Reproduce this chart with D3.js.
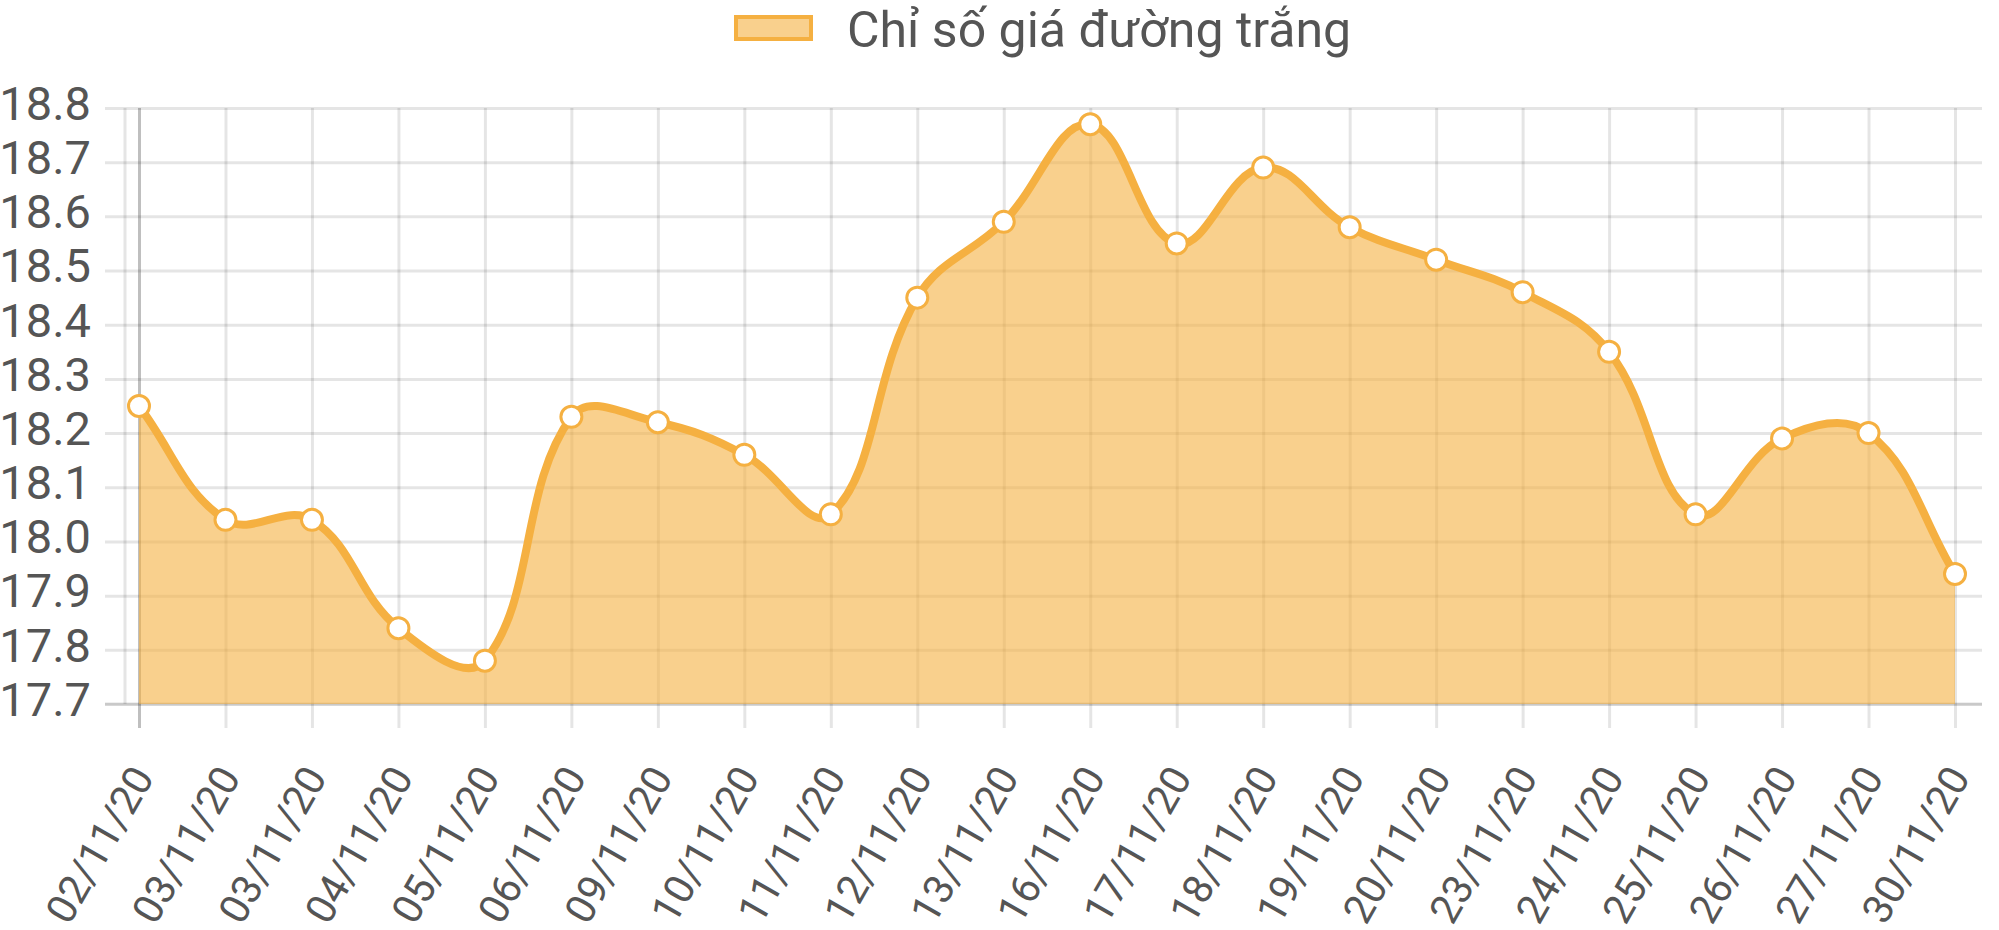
<!DOCTYPE html>
<html>
<head>
<meta charset="utf-8">
<script src="https://cdn.jsdelivr.net/npm/d3@7"></script>
<style>
  html, body { margin: 0; padding: 0; background: #fff; }
  svg { display: block; }
</style>
</head>
<body>
<div id="chart"></div>
<script>
// data
var labels = ["02/11/20", "03/11/20", "03/11/20", "04/11/20", "05/11/20", "06/11/20",
              "09/11/20", "10/11/20", "11/11/20", "12/11/20", "13/11/20", "16/11/20",
              "17/11/20", "18/11/20", "19/11/20", "20/11/20", "23/11/20", "24/11/20",
              "25/11/20", "26/11/20", "27/11/20", "30/11/20"];
var values = [18.25, 18.04, 18.04, 17.84, 17.78, 18.23,
              18.22, 18.16, 18.05, 18.45, 18.59, 18.77,
              18.55, 18.69, 18.58, 18.52, 18.46, 18.35,
              18.05, 18.19, 18.20, 17.94];
var yTicks = [17.7, 17.8, 17.9, 18.0, 18.1, 18.2, 18.3, 18.4, 18.5, 18.6, 18.7, 18.8];
var seriesName = "Chỉ số giá đường trắng";

var width = 1999, height = 930;
var plotLeft = 125, plotRight = 1982, plotTop = 108, plotBottom = 704;
var lineColor = "#f5b041";
var fillColor = "rgba(245,176,65,0.6)";
var textColor = "#555";
var font = "Roboto, 'Helvetica Neue', Arial, sans-serif";

var svg = d3.select("#chart").append("svg")
    .attr("width", width)
    .attr("height", height)
    .attr("viewBox", "0 0 " + width + " " + height);

var xScale = d3.scalePoint()
    .domain(d3.range(labels.length))
    .range([139, 1955]);

var yScale = d3.scaleLinear()
    .domain([17.7, 18.8])
    .range([plotBottom, plotTop]);

// horizontal grid + y labels
var yAxis = d3.axisLeft(yScale)
    .tickValues(yTicks)
    .tickFormat(d3.format(".1f"))
    .tickSizeInner(-(plotRight - 105))
    .tickSizeOuter(0)
    .tickPadding(14);

var yG = svg.append("g")
    .attr("transform", "translate(105,0)")
    .call(yAxis);
yG.select(".domain").remove();
yG.selectAll(".tick line")
    .attr("stroke", "rgba(0,0,0,0.1)")
    .attr("stroke-width", 3);
yG.selectAll(".tick text")
    .attr("fill", textColor)
    .attr("font-family", font)
    .attr("font-size", 47)
    .attr("dy", "0.24em");

// vertical grid + x labels
var xAxis = d3.axisBottom(xScale)
    .tickFormat(function(i) { return labels[i]; })
    .tickSizeInner(-(728 - plotTop))
    .tickSizeOuter(0)
    .tickPadding(0);

var xG = svg.append("g")
    .attr("transform", "translate(0,728)")
    .call(xAxis);
xG.select(".domain").remove();
xG.selectAll(".tick line")
    .attr("stroke", function(d, i) { return i === 0 ? "rgba(0,0,0,0.25)" : "rgba(0,0,0,0.1)"; })
    .attr("stroke-width", 3);
xG.selectAll(".tick text")
    .attr("fill", textColor)
    .attr("font-family", font)
    .attr("font-size", 41)
    .attr("text-anchor", "end")
    .attr("y", 0)
    .attr("dy", "0.35em")
    .attr("transform", "translate(3,42) rotate(-60)");

// axis borders
svg.append("line")
    .attr("x1", plotLeft).attr("x2", plotLeft)
    .attr("y1", plotTop).attr("y2", plotBottom)
    .attr("stroke", "rgba(0,0,0,0.1)")
    .attr("stroke-width", 3);
svg.append("line")
    .attr("x1", 105).attr("x2", plotRight)
    .attr("y1", plotBottom).attr("y2", plotBottom)
    .attr("stroke", "rgba(0,0,0,0.12)")
    .attr("stroke-width", 3);

// points in pixel space
var pts = values.map(function(v, i) { return { x: xScale(i), y: yScale(v) }; });

// spline control points, tension 0.4
var tension = 0.4;
pts.forEach(function(cur, i) {
  var prev = pts[i - 1] || cur, next = pts[i + 1] || cur;
  var d01 = Math.hypot(cur.x - prev.x, cur.y - prev.y);
  var d12 = Math.hypot(next.x - cur.x, next.y - cur.y);
  var s01 = d01 / (d01 + d12) || 0, s12 = d12 / (d01 + d12) || 0;
  var fa = tension * s01, fb = tension * s12;
  cur.cpx0 = cur.x - fa * (next.x - prev.x);
  cur.cpy0 = Math.max(plotTop, Math.min(plotBottom, cur.y - fa * (next.y - prev.y)));
  cur.cpx1 = cur.x + fb * (next.x - prev.x);
  cur.cpy1 = Math.max(plotTop, Math.min(plotBottom, cur.y + fb * (next.y - prev.y)));
});

function curvePath(p) {
  p.moveTo(pts[0].x, pts[0].y);
  for (var i = 1; i < pts.length; i++) {
    var a = pts[i - 1], b = pts[i];
    p.bezierCurveTo(a.cpx1, a.cpy1, b.cpx0, b.cpy0, b.x, b.y);
  }
  return p;
}

var areaPath = curvePath(d3.path());
areaPath.lineTo(pts[pts.length - 1].x, plotBottom);
areaPath.lineTo(pts[0].x, plotBottom);
areaPath.closePath();

svg.append("path")
    .attr("d", areaPath.toString())
    .attr("fill", fillColor);

svg.append("path")
    .attr("d", curvePath(d3.path()).toString())
    .attr("fill", "none")
    .attr("stroke", lineColor)
    .attr("stroke-width", 8)
    .attr("stroke-linejoin", "round");

svg.selectAll("circle.pt")
    .data(values)
    .enter()
      .append("circle")
      .attr("class", "pt")
      .attr("cx", function(d, i) { return xScale(i); })
      .attr("cy", function(d) { return yScale(d); })
      .attr("r", 10.5)
      .attr("fill", "#fff")
      .attr("stroke", lineColor)
      .attr("stroke-width", 3);

// legend
svg.append("rect")
    .attr("x", 736).attr("y", 17)
    .attr("width", 75).attr("height", 22)
    .attr("fill", fillColor)
    .attr("stroke", lineColor)
    .attr("stroke-width", 4);
svg.append("text")
    .attr("x", 847)
    .attr("y", 47)
    .attr("fill", textColor)
    .attr("font-family", font)
    .attr("font-size", 50)
    .text(seriesName);
</script>
</body>
</html>
